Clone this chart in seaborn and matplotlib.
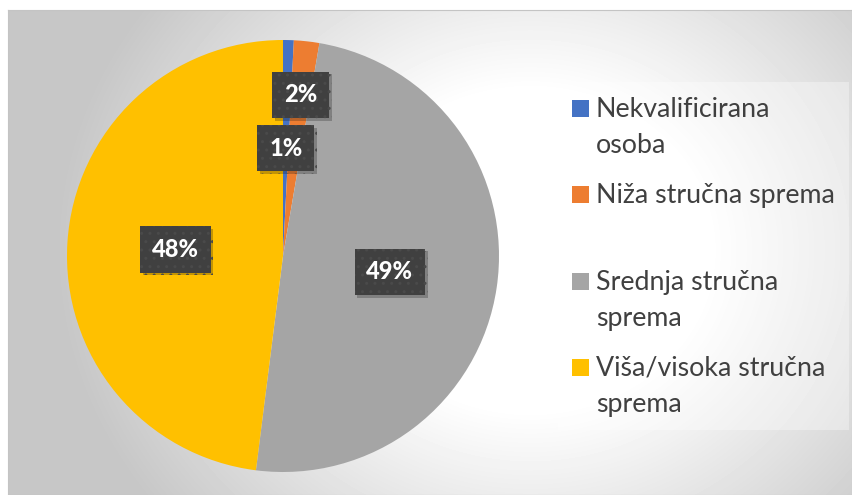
import numpy as np
import matplotlib.pyplot as plt
import matplotlib.patheffects as pe
from matplotlib.patches import Rectangle
import seaborn as sns

# data
categories = ["Nekvalificirana\nosoba", "Niža stručna sprema",
              "Srednja stručna\nsprema", "Viša/visoka stručna\nsprema"]
shares = [0.8, 1.9, 49.3, 48.0]
colors = ["#4472C4", "#ED7D31", "#A5A5A5", "#FFC000"]

sns.set_theme(style="white")
plt.rcParams['font.family'] = ['Lato', 'DejaVu Sans']
plt.rcParams['hatch.linewidth'] = 1.0

W, H = 853, 495
fig = plt.figure(figsize=(W / 100, H / 100), dpi=100, facecolor='white')

# chart area with a soft radial gradient
bg = fig.add_axes([8 / W, 0, 844 / W, 485 / H])
yy, xx = np.mgrid[0:485, 0:844]
r = np.sqrt(((xx - 522) / 450) ** 2 + ((yy - 240) / 400) ** 2)
shade = 1 - 0.22 * np.clip((r - 0.4) / 0.65, 0, 1)
bg.imshow(shade, cmap='gray', vmin=0, vmax=1, aspect='auto', interpolation='bilinear')
bg.set_xticks([])
bg.set_yticks([])
for s in bg.spines.values():
    s.set_color('#c4c4c4')
    s.set_linewidth(0.8)

# pie
ax = fig.add_axes([67 / W, (H - 472) / H, 432 / W, 432 / H])
wedges, texts, autotexts = ax.pie(
    shares, colors=colors, startangle=90, counterclock=False,
    autopct='%.0f%%', pctdistance=0.5,
    wedgeprops=dict(linewidth=0, edgecolor='none'),
    textprops=dict(color='white', fontsize=17, fontweight='black'))
ax.set_xlim(-1, 1)
ax.set_ylim(-1, 1)

# Excel pushed the 2% label outwards so it doesn't collide with 1%
x2, y2 = autotexts[1].get_position()
autotexts[1].set_position((x2 * 1.5, y2 * 1.5))

for t in autotexts:
    t.set_bbox(dict(boxstyle='square,pad=0.5', fc='#404040', ec='#4a4a4a',
                    lw=0, hatch='..'))
    t.get_bbox_patch().set_path_effects(
        [pe.SimplePatchShadow(offset=(2, -2), alpha=0.25), pe.Normal()])

# legend panel
fig.patches.append(Rectangle((558 / W, (H - 430) / H), 291 / W, 348 / H,
                             transform=fig.transFigure, fc='white', alpha=0.35,
                             ec='none', zorder=1))
for i, (lab, col) in enumerate(zip(categories, colors)):
    top = 100 + i * 86.3
    fig.patches.append(Rectangle((572 / W, (H - top - 17) / H), 17 / W, 17 / H,
                                 transform=fig.transFigure, fc=col, ec='none', zorder=2))
    for j, line in enumerate(lab.split('\n')):
        fig.text(596 / W, (H - top - 17 - j * 36) / H, line, fontsize=19.3,
                 color='#404040', va='baseline', ha='left', zorder=3)

fig.savefig('out.png', dpi=100, facecolor='white')
